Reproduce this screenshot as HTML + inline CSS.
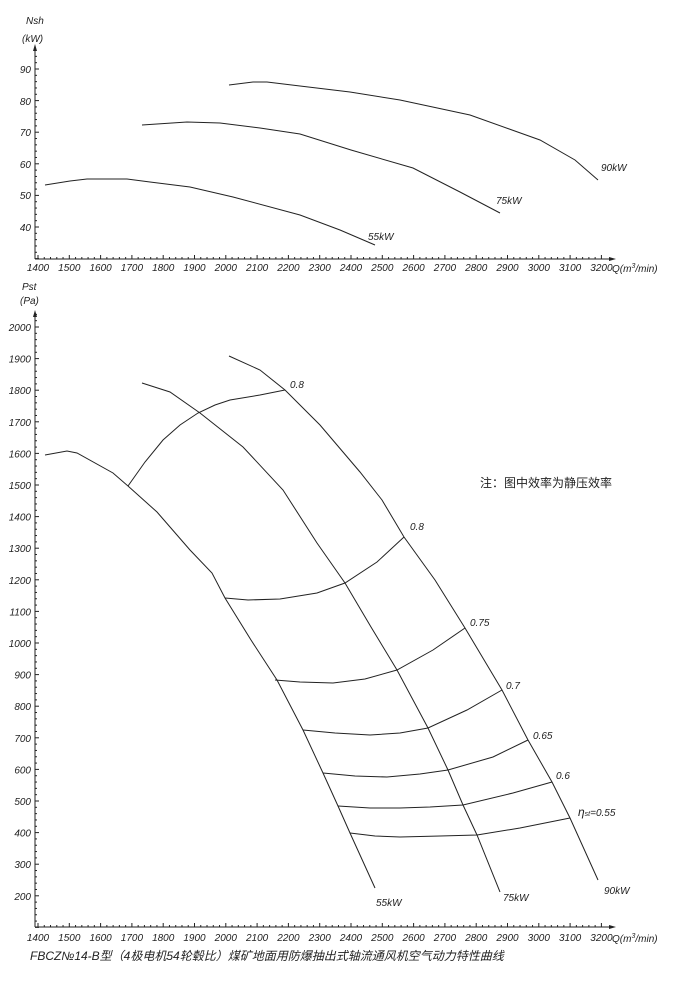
<!DOCTYPE html>
<html><head><meta charset="utf-8"><style>
body{margin:0;background:#fff}
svg{display:block}
text{font-family:"Liberation Sans","Noto Sans CJK SC",sans-serif;font-style:italic;fill:#222}
.t{font-size:10px}
.l{fill:none;stroke:#222;stroke-width:1}
</style></head><body>
<svg width="693" height="986" viewBox="0 0 693 986" xmlns="http://www.w3.org/2000/svg">
<!-- top axes -->
<line x1="35" y1="259" x2="614" y2="259" class="l"/>
<line x1="35" y1="259" x2="35" y2="46" class="l"/>
<path d="M35,44 l-2,7 h4z M616,259 l-7,-2 v4z" fill="#222"/>
<g class="l" id="tt">
</g>
<text x="26" y="24" class="t">Nsh</text>
<text x="22" y="42" class="t">(kW)</text>
<g class="t" text-anchor="end">
<text x="31" y="73">90</text><text x="31" y="105">80</text><text x="31" y="136">70</text>
<text x="31" y="168">60</text><text x="31" y="199">50</text><text x="31" y="231">40</text>
</g>
<!-- bottom axes -->
<line x1="35" y1="927" x2="614" y2="927" class="l"/>
<line x1="35" y1="927" x2="35" y2="312" class="l"/>
<path d="M35,310 l-2,7 h4z M616,927 l-7,-2 v4z" fill="#222"/>
<text x="22" y="290" class="t">Pst</text>
<text x="20" y="304" class="t">(Pa)</text>
<g class="t" text-anchor="end" id="py"></g>
<g class="t" text-anchor="middle" id="qx"></g>
<text x="612" y="272" class="t">Q(m<tspan font-size="7" dy="-4">3</tspan><tspan dy="4">/min)</tspan></text>
<text x="612" y="942" class="t">Q(m<tspan font-size="7" dy="-4">3</tspan><tspan dy="4">/min)</tspan></text>
<g id="ticks" stroke="#222" stroke-width="1"></g>

<!-- top curves -->
<polyline class="l" points="45,185 70,181 87,179 127,179 150,182 190,187 233,197 300,215 340,230 375,245"/>
<polyline class="l" points="142,125 187,122 220,123 260,128 300,134 351,150 413,168 460,192 500,213"/>
<polyline class="l" points="229,85 253,82 267,82 300,86 350,92 400,100 470,115 540,140 575,160 598,180"/>
<text x="368" y="240" class="t">55kW</text>
<text x="496" y="204" class="t">75kW</text>
<text x="601" y="171" class="t">90kW</text>

<!-- bottom power curves -->
<polyline class="l" points="45,455 67,451 77,453 113,473 128,486 157,512 190,550 212,573 225,598 251,640 277,680 303,730 323,773 338,806 350,833 375,888"/>
<polyline class="l" points="142,383 170,392 200,413 243,447 283,490 317,543 345,583 371,627 397,670 428,728 448,770 463,805 477,835 500,892"/>
<polyline class="l" points="229,356 260,370 285,390 320,425 360,472 382,500 404,537 435,580 465,628 502,690 528,740 552,782 570,818 598,880"/>
<!-- efficiency -->
<polyline class="l" points="128,486 145,462 163,440 180,425 198,413 215,405 230,400 260,395 285,390"/>
<polyline class="l" points="225,598 248,600 280,599 317,593 345,583 377,562 404,537"/>
<polyline class="l" points="275,680 300,682 333,683 365,679 397,670 433,650 465,628"/>
<polyline class="l" points="303,730 335,733 370,735 400,733 428,728 467,710 502,690"/>
<polyline class="l" points="323,773 355,776 387,777 420,774 448,770 493,757 528,740"/>
<polyline class="l" points="338,806 370,808 400,808 430,807 463,805 513,793 552,782"/>
<polyline class="l" points="350,833 375,836 400,837 440,836 477,835 520,828 570,818"/>
<g class="t">
<text x="290" y="388">0.8</text>
<text x="410" y="530">0.8</text>
<text x="470" y="626">0.75</text>
<text x="506" y="689">0.7</text>
<text x="533" y="739">0.65</text>
<text x="556" y="779">0.6</text>
<text x="578" y="816"><tspan font-size="12">η</tspan><tspan font-size="7">st</tspan>=0.55</text>
<text x="376" y="906">55kW</text>
<text x="503" y="901">75kW</text>
<text x="604" y="894">90kW</text>
</g>
<text x="480" y="487" style="font-style:normal;font-size:12px">注：图中效率为静压效率</text>
<text x="30" y="960" style="font-size:12px">FBCZ№14-B型（4极电机54轮毂比）煤矿地面用防爆抽出式轴流通风机空气动力特性曲线</text>
</svg>
<script>
var NS="http://www.w3.org/2000/svg";
function el(p,t,a,txt){var e=document.createElementNS(NS,t);for(var k in a)e.setAttribute(k,a[k]);if(txt)e.textContent=txt;p.appendChild(e);}
var ticks=document.getElementById('ticks'),qx=document.getElementById('qx'),py=document.getElementById('py');
for(var q=1400;q<=3200;q+=20){var x=38+(q-1400)*0.313;var big=q%100==0;
 el(ticks,'line',{x1:x,x2:x,y1:259,y2:259-(big?4:2)});
 el(ticks,'line',{x1:x,x2:x,y1:927,y2:927-(big?4:2)});
 if(big){el(qx,'text',{x:x,y:271},q);el(qx,'text',{x:x,y:941},q);}}
for(var n=30;n<=95;n+=2){var y=69+(90-n)*3.16;el(ticks,'line',{x1:35,x2:35+(n%10==0?4:2),y1:y,y2:y});}
for(var p=100;p<=2040;p+=20){var y=327+(2000-p)*0.316;el(ticks,'line',{x1:35,x2:35+(p%100==0?4:2),y1:y,y2:y});
 if(p%100==0&&p>=200)el(py,'text',{x:31,y:y+4},p);}
</script>
</body></html>
